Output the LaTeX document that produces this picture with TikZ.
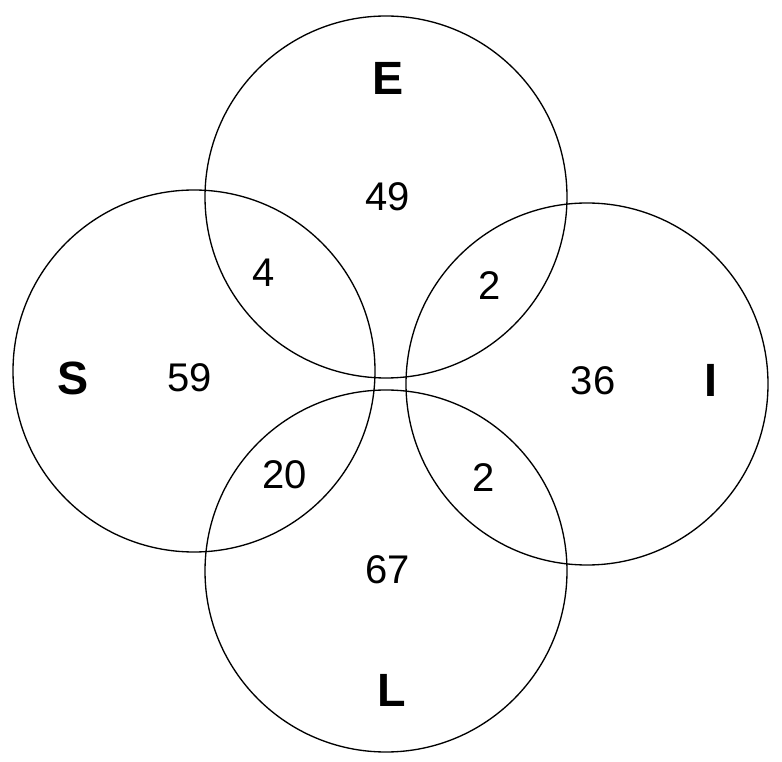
\documentclass[tikz,border=0pt]{standalone}
\usepackage{fontspec}
\setmainfont{Liberation Sans}
\begin{document}
\begin{tikzpicture}[x=0.75pt,y=-0.75pt,
	venn/.style={draw,line width=1pt},
	setname/.style={font=\fontsize{35}{40}\selectfont\bfseries},
	count/.style={font=\fontsize{30}{36}\selectfont}]
				\useasboundingbox (0,0) rectangle (782,762);
				\coordinate (E) at (386,197); \coordinate (S) at (194,371); 
				\coordinate (I) at (587,384); \coordinate (L) at (386,571); 
				\foreach \i in {E,S,I,L} \draw[venn] (\i) circle (181);
				\node[setname] (nE) at (388,78) {E}; \node[setname] (nS) at (73,378) {S}; 
				\node[setname] (nI) at (711,380) {I}; \node[setname] (nL) at (392,690) {L}; 
				\foreach \p/\n in {{388,197}/49,{264,273}/4,{490,286}/2,{190,378}/59,{593,381}/36,{285,475}/20,{484,478}/2,{388,570}/67} 
					\node[count] at (\p) {\n};
			\end{tikzpicture}
\end{document}
